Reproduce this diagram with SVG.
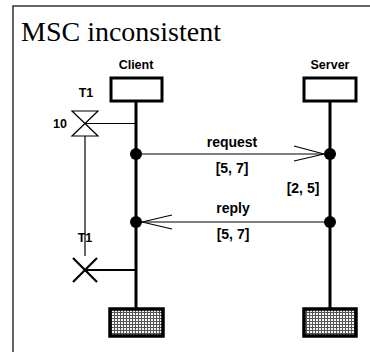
<svg xmlns="http://www.w3.org/2000/svg" width="370" height="352" viewBox="0 0 370 352">
<style>
.lbl{font-family:"Liberation Sans",Arial,sans-serif;font-weight:bold;font-size:14px;fill:#000}
.hd{font-family:"Liberation Sans",Arial,sans-serif;font-weight:bold;font-size:12.5px;fill:#000}
.life{stroke:#000;stroke-width:3;fill:none}
.thin{stroke:#000;stroke-width:1.2;fill:none}
.head{fill:#fff;stroke:#000;stroke-width:3}
.stop{fill:url(#grid);stroke:#000;stroke-width:3.5}
.dot{fill:#000}
</style>
<defs>
<pattern id="grid" width="3" height="3" patternUnits="userSpaceOnUse">
<rect width="3" height="3" fill="#f4f4f4"/>
<path d="M0 0.5H3M0.5 0V3" stroke="#555" stroke-width="1"/>
</pattern>
</defs>
<rect x="13" y="6" width="400" height="400" fill="#fff" stroke="#333" stroke-width="1.5"/>
<text x="21" y="41" font-family="Liberation Serif,'Times New Roman',serif" font-size="28">MSC inconsistent</text>
<g id="client">
<text class="hd" x="136" y="69" text-anchor="middle">Client</text>
<line class="life" x1="136" y1="102" x2="136" y2="309"/>
<rect class="head" x="111" y="78" width="51" height="23"/>
<rect class="stop" x="110" y="309" width="53" height="27"/>
</g>
<g id="server">
<text class="hd" x="330" y="69" text-anchor="middle">Server</text>
<line class="life" x1="330" y1="102" x2="330" y2="309"/>
<rect class="head" x="304" y="78" width="52" height="23"/>
<rect class="stop" x="304" y="309" width="52" height="27"/>
</g>
<g id="timer">
<text class="hd" x="86" y="97" text-anchor="middle" font-size="13">T1</text>
<text class="hd" x="60" y="128" text-anchor="middle" font-size="13">10</text>
<path class="thin" d="M72 111H98L72 136H98Z"/>
<line class="thin" x1="85" y1="123.5" x2="136" y2="123.5"/>
<line class="thin" x1="85" y1="136" x2="85" y2="256"/>
<text class="hd" x="85" y="242" text-anchor="middle" font-size="13">T1</text>
<path d="M73 258L97 282M97 258L73 282" stroke="#000" stroke-width="2.2" fill="none"/>
<line x1="85" y1="270" x2="136" y2="270" stroke="#000" stroke-width="2"/>
</g>
<g id="connectors">
<line class="thin" x1="136" y1="154" x2="328" y2="154"/>
<path d="M294 146L324 154L294 161" stroke="#000" stroke-width="1.2" fill="none"/>
<line class="thin" x1="138" y1="222" x2="330" y2="222"/>
<path d="M172 215L142 222L172 229" stroke="#000" stroke-width="1.2" fill="none"/>
<circle class="dot" cx="136" cy="154" r="6"/>
<circle class="dot" cx="330" cy="154" r="6"/>
<circle class="dot" cx="136" cy="222" r="6"/>
<circle class="dot" cx="330" cy="222" r="6"/>
<text class="lbl" x="232" y="147" text-anchor="middle">request</text>
<text class="lbl" x="232" y="173" text-anchor="middle">[5, 7]</text>
<text class="lbl" x="303" y="193" text-anchor="middle">[2, 5]</text>
<text class="lbl" x="233" y="213" text-anchor="middle">reply</text>
<text class="lbl" x="233" y="239" text-anchor="middle">[5, 7]</text>
</g>
</svg>
